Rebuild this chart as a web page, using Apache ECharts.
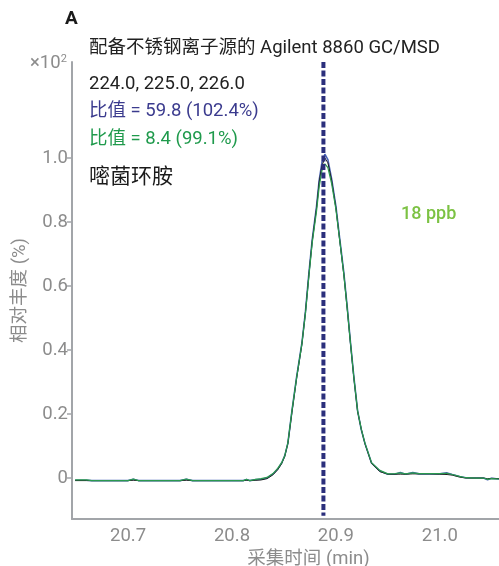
<!DOCTYPE html>
<html>
<head>
<meta charset="utf-8">
<script src="https://cdn.jsdelivr.net/npm/echarts@6/dist/echarts.min.js"></script>
<style>
  html, body { margin: 0; padding: 0; background: #fff; }
  #chart { width: 499px; height: 566px; }
</style>
</head>
<body>
<div id="chart"></div>
<script>
// 保留时间 (min)
const times = [20.649, 20.66, 20.665, 20.67, 20.69, 20.7, 20.705, 20.71, 20.73, 20.75,
  20.756, 20.762, 20.78, 20.8, 20.811, 20.814, 20.817, 20.823, 20.828, 20.8337,
  20.8394, 20.844, 20.8478, 20.8508, 20.8538, 20.8577, 20.8622, 20.8673, 20.8707, 20.874,
  20.8772, 20.8814, 20.8839, 20.8865, 20.8894, 20.8923, 20.8959, 20.9, 20.9038, 20.9077,
  20.9109, 20.9141, 20.9173, 20.9209, 20.9245, 20.9279, 20.9343, 20.9423, 20.95, 20.957,
  20.962, 20.967, 20.974, 20.98, 20.99, 21.0, 21.007, 21.012, 21.019, 21.025,
  21.035, 21.042, 21.046, 21.05, 21.057];

// 相对丰度 (×10²)
const ion224 = [-0.007, -0.007, -0.008, -0.008, -0.008, -0.008, -0.004, -0.008, -0.008, -0.008,
  -0.004, -0.008, -0.008, -0.008, -0.008, -0.005, -0.008, -0.005, -0.004, 0.0,
  0.012, 0.028, 0.047, 0.07, 0.109, 0.21, 0.316, 0.422, 0.52, 0.64,
  0.744, 0.85, 0.93, 0.985, 1.012, 0.995, 0.935, 0.85, 0.745, 0.64,
  0.535, 0.422, 0.316, 0.21, 0.15, 0.109, 0.047, 0.022, 0.012, 0.012,
  0.017, 0.012, 0.017, 0.013, 0.013, 0.013, 0.016, 0.011, 0.005, 0.001,
  0.0, 0.0, -0.005, -0.001, -0.003];
const ion225 = [-0.008, -0.008, -0.008, -0.008, -0.008, -0.008, -0.007, -0.008, -0.008, -0.008,
  -0.007, -0.008, -0.008, -0.008, -0.008, -0.007, -0.008, -0.007, -0.006, -0.002,
  0.010, 0.026, 0.045, 0.068, 0.108, 0.205, 0.312, 0.418, 0.518, 0.635,
  0.74, 0.845, 0.925, 0.975, 1.0, 0.985, 0.93, 0.845, 0.74, 0.635,
  0.53, 0.418, 0.312, 0.208, 0.152, 0.108, 0.046, 0.02, 0.012, 0.012,
  0.012, 0.012, 0.013, 0.013, 0.013, 0.012, 0.011, 0.009, 0.003, 0.0,
  0.0, 0.0, -0.002, -0.001, -0.002];
const ion226 = [-0.006, -0.006, -0.008, -0.008, -0.008, -0.008, -0.003, -0.008, -0.008, -0.008,
  -0.003, -0.008, -0.008, -0.008, -0.008, -0.004, -0.008, -0.004, -0.002, 0.002,
  0.014, 0.03, 0.048, 0.07, 0.11, 0.21, 0.314, 0.42, 0.515, 0.63,
  0.735, 0.835, 0.91, 0.96, 0.982, 0.97, 0.92, 0.84, 0.74, 0.635,
  0.53, 0.42, 0.314, 0.21, 0.152, 0.11, 0.048, 0.024, 0.013, 0.014,
  0.016, 0.013, 0.016, 0.014, 0.014, 0.014, 0.015, 0.011, 0.005, 0.001,
  0.0, 0.0, -0.004, -0.002, -0.003];

// 保留时间标记线
const rtLine = [[20.888, 1.3], [20.888, -0.118]];

const yTicks = [0, 0.2, 0.4, 0.6, 0.8, 1.0];
const xTicks = [20.7, 20.8, 20.9, 21.0];

const FONT = "Roboto, 'Noto Sans CJK SC', sans-serif";
const GRAY = '#8c8c8c';
const AXIS = '#a2a5a9';
const FS = 18.5;

const zip = ys => times.map((t, i) => [t, ys[i]]);

const chart = echarts.init(document.getElementById('chart'));
chart.setOption({
  backgroundColor: '#fff',
  animation: false,
  grid: { left: 72, right: 0, top: 62, bottom: 47, outerBoundsMode: 'none', containLabel: false },
  xAxis: {
    type: 'value', min: 20.646, max: 21.057,
    name: '采集时间 (min)', nameLocation: 'middle', nameGap: 28,
    nameTextStyle: { color: GRAY, fontSize: FS, fontFamily: FONT, padding: [0, 0, 0, 46] },
    axisLine: { onZero: false, lineStyle: { color: AXIS, width: 2 } },
    axisTick: { show: false },
    splitLine: { show: false },
    axisLabel: {
      customValues: xTicks, color: GRAY, fontSize: FS, fontFamily: FONT, margin: 8,
      formatter: v => v.toFixed(1)
    }
  },
  yAxis: {
    type: 'value', min: -0.128, max: 1.3,
    name: '相对丰度 (%)', nameLocation: 'middle', nameGap: 42, nameRotate: 90,
    nameTextStyle: { color: GRAY, fontSize: FS, fontFamily: FONT },
    axisLine: { show: true, onZero: false, lineStyle: { color: AXIS, width: 2 } },
    axisTick: { show: true, customValues: yTicks, length: 5, lineStyle: { color: AXIS, width: 1.5 } },
    splitLine: { show: false },
    axisLabel: {
      customValues: yTicks, color: GRAY, fontSize: FS, fontFamily: FONT, margin: 4,
      formatter: v => v === 0 ? '0' : v.toFixed(1)
    }
  },
  series: [
    { type: 'line', data: zip(ion224), showSymbol: false, z: 2,
      lineStyle: { color: '#4a64b6', width: 1.6 } },
    { type: 'line', data: zip(ion225), showSymbol: false, z: 3,
      lineStyle: { color: '#1e1e1e', width: 1 } },
    { type: 'line', data: zip(ion226), showSymbol: false, z: 4,
      lineStyle: { color: '#2a9a4e', width: 1.2 } },
    { type: 'line', data: rtLine, showSymbol: false, z: 5,
      lineStyle: { color: '#2b2f7c', width: 4, type: [6, 2.5] } }
  ],
  graphic: [
    { type: 'text', left: 65, top: 10,
      style: { text: 'A', font: 'bold 19px ' + FONT, fill: '#1a1a1a' } },
    { type: 'text', left: 89, top: 39,
      style: { text: '配备不锈钢离子源的 Agilent 8860 GC/MSD', font: FS + 'px ' + FONT, fill: '#222' } },
    { type: 'text', left: 89, top: 75,
      style: { text: '224.0, 225.0, 226.0', font: FS + 'px ' + FONT, fill: '#222' } },
    { type: 'text', left: 89, top: 102,
      style: { text: '比值 = 59.8 (102.4%)', font: FS + 'px ' + FONT, fill: '#3b3b8e' } },
    { type: 'text', left: 89, top: 130,
      style: { text: '比值 = 8.4 (99.1%)', font: FS + 'px ' + FONT, fill: '#1f9a4c' } },
    { type: 'text', left: 89, top: 167,
      style: { text: '嘧菌环胺', font: '21px ' + FONT, fill: '#1a1a1a' } },
    { type: 'text', left: 401, top: 206,
      style: { text: '18 ppb', font: '500 18px ' + FONT, fill: '#7cc243' } },
    { type: 'text', left: 30, top: 54,
      style: {
        text: '{a|×10}{b|2}',
        fill: GRAY,
        rich: {
          a: { fontSize: FS, fontFamily: FONT, fill: GRAY },
          b: { fontSize: 11, fontFamily: FONT, fill: GRAY, verticalAlign: 'top', padding: [0, 0, 8, 0] }
        }
      } }
  ]
});
</script>
</body>
</html>
